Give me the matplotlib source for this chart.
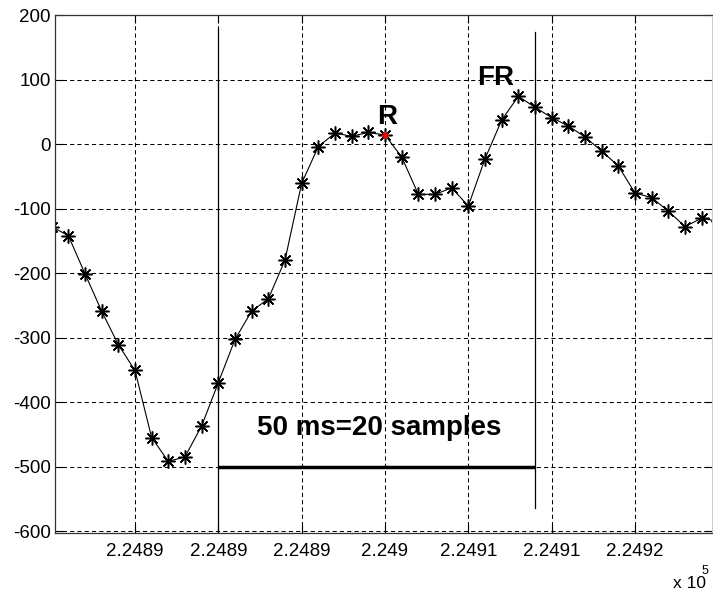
import numpy as np
import matplotlib.pyplot as plt

plt.rcParams['font.family'] = ['Liberation Sans', 'DejaVu Sans']
plt.rcParams['axes.unicode_minus'] = False

# samples (index) and amplitude
start = 224880
amp = [-128, -142, -201, -259, -311, -351, -455, -492, -485, -437,
       -370, -303, -259, -240, -180, -61, -4, 17, 12, 18,
       14, -20, -78, -78, -68, -96, -23, 37, 74, 57,
       41, 28, 11, -11, -34, -76, -83, -104, -128, -115, -120]
x = start + np.arange(len(amp))

r_sample = 224900
r_value = 14
win_start = 224890
win_end = 224909
bar_level = -500

xticks = [224885, 224890, 224895, 224900, 224905, 224910, 224915]
xticklabels = ['2.2489', '2.2489', '2.2489', '2.249', '2.2491', '2.2491', '2.2492']
yticks = [-600, -500, -400, -300, -200, -100, 0, 100, 200]

fig = plt.figure(figsize=(7.13, 5.98), dpi=100)
ax = fig.add_axes([0.0771, 0.1087, 0.9215, 0.8662])

star = (8, 2, 0)
ax.plot(x, amp, color='black', lw=0.8, marker=star, ms=10, mew=1.1)
ax.plot([r_sample], [r_value], ls='none', marker=star, ms=5, mew=0.8, color='red')

# window markers
ax.plot([win_start, win_start], [-620, 178], color='black', lw=0.9)
ax.plot([win_end, win_end], [-565, 174], color='black', lw=0.9)
ax.plot([win_start, win_end], [bar_level, bar_level], color='black', lw=2.5,
        solid_capstyle='butt')

ax.text(start + 12.3, -451, '50 ms=20 samples', fontsize=20, fontweight='bold',
        ha='left', va='baseline')
ax.text(start + 19.5, 31, 'R', fontsize=20, fontweight='bold', ha='left', va='baseline')
ax.text(start + 25.5, 92, 'FR', fontsize=20, fontweight='bold', ha='left', va='baseline')

ax.set_xlim(224880.2, 224919.62)
ax.set_ylim(-603, 200)
ax.set_xticks(xticks)
ax.set_xticklabels(xticklabels)
ax.set_yticks(yticks)

ax.grid(True, color='black', lw=0.75, linestyle=(0, (4, 3)))
ax.tick_params(direction='in', length=6, width=0.8, labelsize=13.5,
               top=True, right=True)
ax.tick_params(axis='x', pad=7)
ax.tick_params(axis='y', pad=3)
for side in ['left', 'bottom', 'top']:
    ax.spines[side].set_color('#333333')
    ax.spines[side].set_linewidth(0.9)
ax.spines['right'].set_color('#cccccc')

fig.text(673 / 713, 1 - 584 / 598, 'x 10', fontsize=12.5, ha='left', va='center')
fig.text(702 / 713, 1 - 571 / 598, '5', fontsize=9, ha='left', va='center')

fig.savefig('out.png', dpi=100)
